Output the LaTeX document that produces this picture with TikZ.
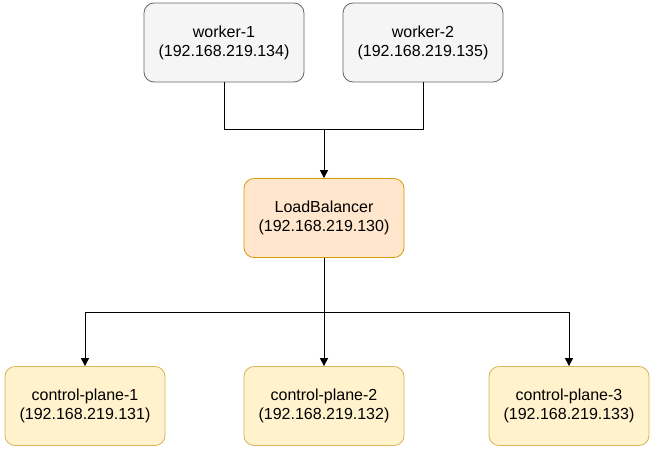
\documentclass[tikz,border=0pt]{standalone}
\usepackage{fontspec}
\setmainfont{Liberation Sans}
\usetikzlibrary{arrows.meta}
\definecolor{wfill}{HTML}{F5F5F5}
\definecolor{wdraw}{HTML}{666666}
\definecolor{lbfill}{HTML}{FFE6CC}
\definecolor{lbdraw}{HTML}{D79B00}
\definecolor{cpfill}{HTML}{FFF2CC}
\definecolor{cpdraw}{HTML}{D6B656}
\begin{document}
\begin{tikzpicture}[x=1pt,y=-1pt,
  box/.style={rounded corners=10pt, minimum width=160pt, minimum height=79pt, align=center, font=\fontsize{16}{19}\selectfont, inner sep=0pt, line width=0.8pt},
  worker/.style={box, fill=wfill, draw=wdraw},
  lb/.style={box, fill=lbfill, draw=lbdraw},
  cp/.style={box, fill=cpfill, draw=cpdraw},
  conn/.style={line width=1pt, black},
  arr/.style={conn, -{Triangle[length=8pt,width=8pt]}}]
\useasboundingbox (0,0) rectangle (654,451);
\node[worker] (w1) at (224,42.5) {worker-1\\(192.168.219.134)};
\node[worker] (w2) at (423,42.5) {worker-2\\(192.168.219.135)};
\node[lb] (lb) at (324,218) {LoadBalancer\\(192.168.219.130)};
\node[cp] (cp1) at (85,406) {control-plane-1\\(192.168.219.131)};
\node[cp] (cp2) at (324,406) {control-plane-2\\(192.168.219.132)};
\node[cp] (cp3) at (569,406) {control-plane-3\\(192.168.219.133)};
\coordinate (j1) at (324,129);
\coordinate (j2) at (324,312);
\draw[conn] (w1.south) -- (w1.south |- j1) -- (w2.south |- j1) -- (w2.south);
\draw[arr] (j1) -- (lb.north);
\draw[conn] (lb.south) -- (j2);
\draw[arr] (j2) -- (j2 -| cp1.north) -- (cp1.north);
\draw[arr] (j2) -- (cp2.north);
\draw[arr] (j2) -- (j2 -| cp3.north) -- (cp3.north);
\end{tikzpicture}
\end{document}
